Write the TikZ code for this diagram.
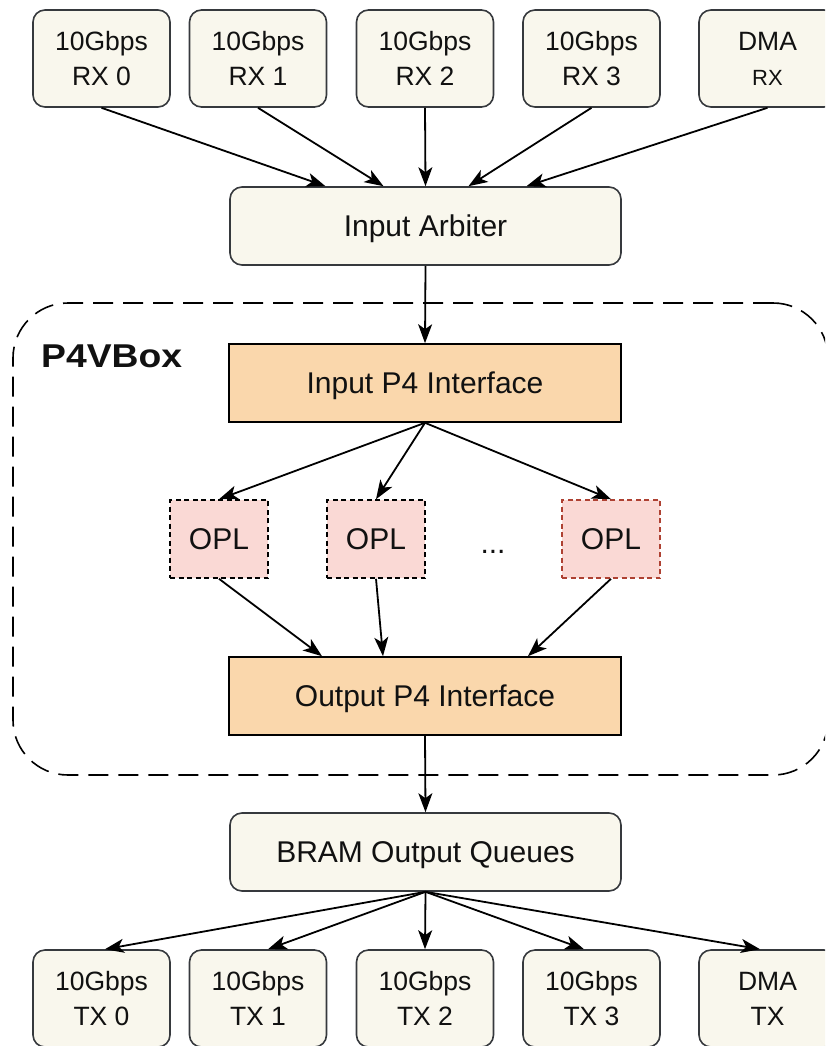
\documentclass[tikz,border=0pt]{standalone}
\usepackage{fontspec}
\setmainfont{Liberation Sans}
\usetikzlibrary{arrows.meta,calc}
\definecolor{boxfill}{HTML}{F9F7ED}
\definecolor{boxline}{HTML}{36393D}
\definecolor{p4fill}{HTML}{FAD7AC}
\definecolor{oplfill}{HTML}{FAD9D5}
\definecolor{oplred}{HTML}{AE4132}
\definecolor{ink}{HTML}{111111}

\begin{document}
\begin{tikzpicture}[x=1pt,y=-1pt,
  label30/.style={text=ink, font=\fontsize{30}{36}\selectfont, text height=28pt, text depth=6.3pt},
  port/.style={draw=boxline, fill=boxfill, line width=1.6pt, rounded corners=12pt,
    minimum width=137pt, minimum height=97pt, inner sep=0pt, align=center,
    text=ink, font=\fontsize{26.5}{35}\selectfont},
  stage/.style={draw=boxline, fill=boxfill, line width=1.6pt, rounded corners=12pt,
    minimum width=391pt, minimum height=78pt, inner sep=0pt, label30},
  p4if/.style={draw=black, fill=p4fill, line width=1.6pt,
    minimum width=392pt, minimum height=78pt, inner sep=0pt, label30},
  opl/.style={draw=black, fill=oplfill, line width=1.6pt, dash pattern=on 5pt off 3.5pt,
    minimum width=98pt, minimum height=78pt, inner sep=0pt, label30},
  container/.style={draw=black, line width=1.6pt, dash pattern=on 20pt off 10pt,
    rounded corners=55pt, minimum width=815pt, minimum height=472pt, inner sep=0pt},
  flow/.style={draw=black, line width=1.8pt, -{Stealth[length=19pt,width=14pt,inset=5pt]}},
]
\useasboundingbox (0,0) rectangle (825,1046);
\clip (0,0) rectangle (825,1046);

% P4VBox container
\node[container] (vbox) at (420.5,539) {};
\node[anchor=base west, inner sep=0pt, text=ink, font=\fontsize{33}{38}\selectfont\bfseries]
  (vlabel) at (41,367) {\scalebox{1.13}[1]{P4VBox}};

% receive ports
\node[port] (rx0) at (101.5,58.5) {10Gbps\\RX 0};
\node[port] (rx1) at (258,58.5) {10Gbps\\RX 1};
\node[port] (rx2) at (425,58.5) {10Gbps\\RX 2};
\node[port] (rx3) at (591.5,58.5) {10Gbps\\RX 3};
\node[port] (rxd) at (767.5,58.5) {DMA\\{\fontsize{22}{26}\selectfont RX}};

% pipeline stages
\node[stage] (arb) at (425.5,226) {Input Arbiter};
\node[p4if] (inp) at (425,383) {Input P4 Interface};
\node[opl] (opl1) at (219,539) {OPL};
\node[opl] (opl2) at (376,539) {OPL};
\node[opl, draw=oplred] (opl3) at (611,539) {OPL};
\node[anchor=base, inner sep=0pt, text=ink, font=\fontsize{30}{36}\selectfont] (dots) at (493,553) {...};
\node[p4if] (outp) at (425,696) {Output P4 Interface};
\node[stage] (bram) at (425.5,852) {BRAM Output Queues};

% transmit ports
\node[port] (tx0) at (101.5,998.5) {10Gbps\\TX 0};
\node[port] (tx1) at (258,998.5) {10Gbps\\TX 1};
\node[port] (tx2) at (425,998.5) {10Gbps\\TX 2};
\node[port] (tx3) at (591.5,998.5) {10Gbps\\TX 3};
\node[port] (txd) at (767.5,998.5) {DMA\\TX};

% connectors
\draw[flow] (rx0.south) -- ($(arb.north)+(-100,0)$);
\draw[flow] (rx1.south) -- ($(arb.north)+(-42,0)$);
\draw[flow] (rx2.south) -- ($(arb.north)+(0,0)$);
\draw[flow] (rx3.south) -- ($(arb.north)+(43,0)$);
\draw[flow] (rxd.south) -- ($(arb.north)+(101,0)$);

\draw[flow] (arb.south) -- (inp.north);

\draw[flow] (inp.south) -- (opl1.north);
\draw[flow] (inp.south) -- (opl2.north);
\draw[flow] (inp.south) -- (opl3.north);

\draw[flow] (opl1.south) -- ($(outp.north)+(-103,0)$);
\draw[flow] (opl2.south) -- ($(outp.north)+(-42,0)$);
\draw[flow] (opl3.south) -- ($(outp.north)+(103,0)$);

\draw[flow] (outp.south) -- (bram.north);

\draw[flow] (bram.south) -- ($(tx0.north)+(3.5,0)$);
\draw[flow] (bram.south) -- ($(tx1.north)+(10,0)$);
\draw[flow] (bram.south) -- (tx2.north);
\draw[flow] (bram.south) -- ($(tx3.north)+(-7.5,0)$);
\draw[flow] (bram.south) -- ($(txd.north)+(-7.5,0)$);
\end{tikzpicture}
\end{document}
